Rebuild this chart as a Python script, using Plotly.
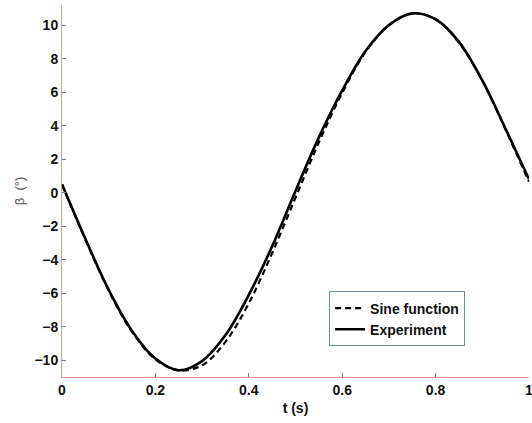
import plotly.graph_objects as go

t = [0.00, 0.05, 0.10, 0.15, 0.20, 0.25, 0.30, 0.35, 0.40, 0.45, 0.50,
     0.55, 0.60, 0.65, 0.70, 0.75, 0.80, 0.85, 0.90, 0.95, 1.00]

sine_function = [0.5, -2.8, -5.85, -8.3, -9.95, -10.6, -10.3, -8.9, -6.6, -3.6, -0.3,
                 3.0, 5.95, 8.4, 10.0, 10.7, 10.35, 8.95, 6.7, 3.75, 0.65]

experiment = [0.5, -2.75, -5.8, -8.25, -9.9, -10.6, -10.05, -8.5, -6.1, -3.2, 0.1,
              3.3, 6.1, 8.45, 10.0, 10.7, 10.35, 9.0, 6.7, 3.8, 0.8]

x_ticks = [0, 0.2, 0.4, 0.6, 0.8, 1]
x_tick_labels = ["0", "0.2", "0.4", "0.6", "0.8", "1"]
y_ticks = [-10, -8, -6, -4, -2, 0, 2, 4, 6, 8, 10]

fig = go.Figure()
fig.add_trace(go.Scatter(x=t, y=sine_function, mode="lines", name="<b>Sine function</b>",
                         line=dict(color="black", width=2.2, dash="6px,4px", shape="spline")))
fig.add_trace(go.Scatter(x=t, y=experiment, mode="lines", name="<b>Experiment</b>",
                         line=dict(color="black", width=2.6, shape="spline")))

axis_font = dict(family="Liberation Sans, Arial, sans-serif", size=14, color="#111111")

fig.update_layout(
    width=532, height=423,
    margin=dict(l=62, r=3, t=5, b=46),
    paper_bgcolor="white", plot_bgcolor="white",
    showlegend=True,
    legend=dict(x=0.572, y=0.23, xanchor="left", yanchor="top",
                bgcolor="white", bordercolor="#6f9199", borderwidth=1,
                font=dict(family="Liberation Sans, Arial, sans-serif", size=14, color="#111111"),
                tracegroupgap=0, itemwidth=30),
    xaxis=dict(range=[0, 1], tickvals=x_ticks, ticktext=x_tick_labels, automargin=False,
               ticklabeloverflow="allow",
               showgrid=False, zeroline=False, showline=True, linecolor="#e29a86", linewidth=1,
               ticks="inside", ticklen=4, tickcolor="#4f8fa0",
               tickfont=dict(family="Liberation Sans, Arial, sans-serif", size=14, color="#111111", weight="bold"),
               title=dict(text="<b>t (s)</b>", font=axis_font, standoff=6)),
    yaxis=dict(range=[-11, 11.2], tickvals=y_ticks, automargin=False,
               ticklabeloverflow="allow",
               showgrid=False, zeroline=False, showline=True, linecolor="#e29a86", linewidth=1,
               ticks="inside", ticklen=4, tickcolor="#4f8fa0",
               tickfont=dict(family="Liberation Sans, Arial, sans-serif", size=14, color="#111111", weight="bold"),
               title=dict(text="β  (°)", font=dict(family="Liberation Sans, Arial, sans-serif", size=13, color="#555555"),
                          standoff=6)),
)

fig.write_html("out.html", config={"displayModeBar": False},
               post_script="document.body.style.margin='0';document.body.style.overflow='hidden';")
